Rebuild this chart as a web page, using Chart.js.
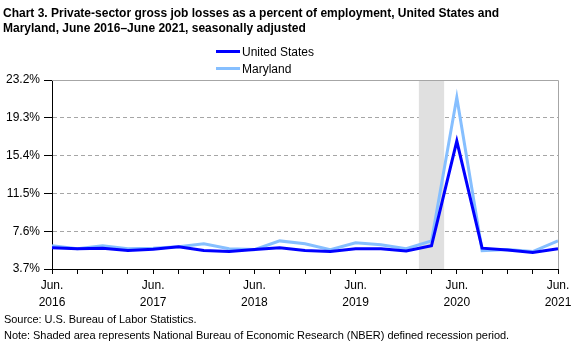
<!DOCTYPE html>
<html>
<head>
<meta charset="utf-8">
<script src="https://cdn.jsdelivr.net/npm/chart.js@4"></script>
<style>
  body { margin: 0; background: #fff; }
  #wrap { position: relative; width: 583px; height: 346px; font-family: Arial, "Liberation Sans", sans-serif; color: #000; }
  #chart { position: absolute; left: 0; top: 0; }
  #title { position: absolute; left: 3px; top: 6px; font-size: 12px; font-weight: bold; line-height: 14.5px; white-space: nowrap; }
  #legend { position: absolute; left: 216px; top: 44px; font-size: 12px; line-height: 16.5px; }
  #legend div { white-space: nowrap; }
  #legend span.sw { display: inline-block; width: 24px; height: 3px; vertical-align: middle; margin-right: 2px; position: relative; top: -1px; }
  #footer { position: absolute; left: 4px; top: 311px; font-size: 11px; line-height: 16px; letter-spacing: -0.05px; white-space: nowrap; }
</style>
</head>
<body>
<div id="wrap">
  <canvas id="chart" width="583" height="346"></canvas>
  <div id="title">Chart 3. Private-sector gross job losses as a percent of employment, United States and<br>Maryland, June 2016&ndash;June 2021, seasonally adjusted</div>
  <div id="legend"></div>
  <div id="footer">Source: U.S. Bureau of Labor Statistics.<br>Note: Shaded area represents National Bureau of Economic Research (NBER) defined recession period.</div>
</div>
<script>
// quarters, June 2016 - June 2021
var quarters = ['Jun 2016','Sep 2016','Dec 2016','Mar 2017','Jun 2017','Sep 2017','Dec 2017','Mar 2018',
  'Jun 2018','Sep 2018','Dec 2018','Mar 2019','Jun 2019','Sep 2019','Dec 2019','Mar 2020',
  'Jun 2020','Sep 2020','Dec 2020','Mar 2021','Jun 2021'];

var unitedStates = [5.9, 5.8, 5.85, 5.6, 5.75, 6.0, 5.6, 5.5, 5.7, 5.9, 5.6, 5.5, 5.8, 5.8, 5.55, 6.1, 16.9, 5.85, 5.65, 5.4, 5.8];
var maryland     = [6.1, 5.8, 6.1, 5.8, 5.85, 6.0, 6.3, 5.8, 5.7, 6.6, 6.3, 5.7, 6.4, 6.2, 5.8, 6.6, 21.4, 5.6, 5.7, 5.5, 6.6];

var yTicks = [3.7, 7.6, 11.5, 15.4, 19.3, 23.2];

// recession shading, in quarter index units
var recessionStart = 14.5;
var recessionEnd = 15.5;

var usColor = '#0000ff';
var mdColor = '#86bfff';

// legend (html)
var legendEl = document.getElementById('legend');
[['United States', usColor], ['Maryland', mdColor]].forEach(function (item) {
  var row = document.createElement('div');
  row.innerHTML = '<span class="sw" style="background:' + item[1] + '"></span>' + item[0];
  legendEl.appendChild(row);
});

var recessionBox = {
  id: 'recessionBox',
  beforeDatasetsDraw: function (chart) {
    var ctx = chart.ctx, area = chart.chartArea, x = chart.scales.x;
    var x1 = x.getPixelForValue(recessionStart);
    var x2 = x.getPixelForValue(recessionEnd);
    ctx.save();
    ctx.fillStyle = '#e0e0e0';
    ctx.fillRect(x1, area.top, x2 - x1, area.bottom - area.top);
    ctx.restore();
  },
  afterDraw: function (chart) {
    var ctx = chart.ctx, area = chart.chartArea;
    ctx.save();
    ctx.strokeStyle = '#a6a6a6';
    ctx.lineWidth = 1;
    ctx.beginPath();
    ctx.moveTo(area.left, Math.round(area.top) + 0.5);
    ctx.lineTo(Math.round(area.right) + 0.5, Math.round(area.top) + 0.5);
    ctx.lineTo(Math.round(area.right) + 0.5, area.bottom);
    ctx.stroke();
    ctx.restore();
  }
};

const config = {
  type: 'line',
  data: {
    labels: quarters,
    datasets: [
      { label: 'United States', data: unitedStates, borderColor: usColor, backgroundColor: usColor, borderWidth: 3, pointRadius: 0, tension: 0 },
      { label: 'Maryland', data: maryland, borderColor: mdColor, backgroundColor: mdColor, borderWidth: 3, pointRadius: 0, tension: 0 }
    ]
  },
  options: {
    responsive: false,
    animation: false,
    layout: { padding: { left: 0, right: 25, top: 80, bottom: 35 } },
    plugins: {
      legend: { display: false },
      title: { display: false },
      tooltip: { enabled: false }
    },
    scales: {
      x: {
        afterFit: function (scale) { scale.height = 42; },
        grid: { drawOnChartArea: false, drawTicks: true, tickLength: 5, tickColor: '#000' },
        border: { color: '#000', width: 1 },
        ticks: {
          autoSkip: false,
          maxRotation: 0,
          padding: 4,
          color: '#000',
          font: { family: 'Arial, "Liberation Sans"', size: 12, lineHeight: 1.35 },
          callback: function (val, i) {
            if (i % 4 !== 0) return '';
            return ['Jun.', quarters[i].split(' ')[1]];
          }
        }
      },
      y: {
        min: 3.7,
        max: 23.2,
        afterFit: function (scale) { scale.width = 52; },
        afterBuildTicks: function (scale) { scale.ticks = yTicks.map(function (v) { return { value: v }; }); },
        grid: {
          color: function (c) { return c.tick && c.tick.value >= 23.2 ? 'rgba(0,0,0,0)' : '#a6a6a6'; },
          tickColor: '#000',
          tickLength: 8,
          lineWidth: 1
        },
        border: { color: '#000', width: 1, dash: [4, 3] },
        ticks: {
          padding: 4,
          color: '#000',
          font: { family: 'Arial, "Liberation Sans"', size: 12 },
          callback: function (v) { return v.toFixed(1) + '%'; }
        }
      }
    }
  },
  plugins: [recessionBox]
};

new Chart(document.getElementById('chart'), config);
</script>
</body>
</html>
